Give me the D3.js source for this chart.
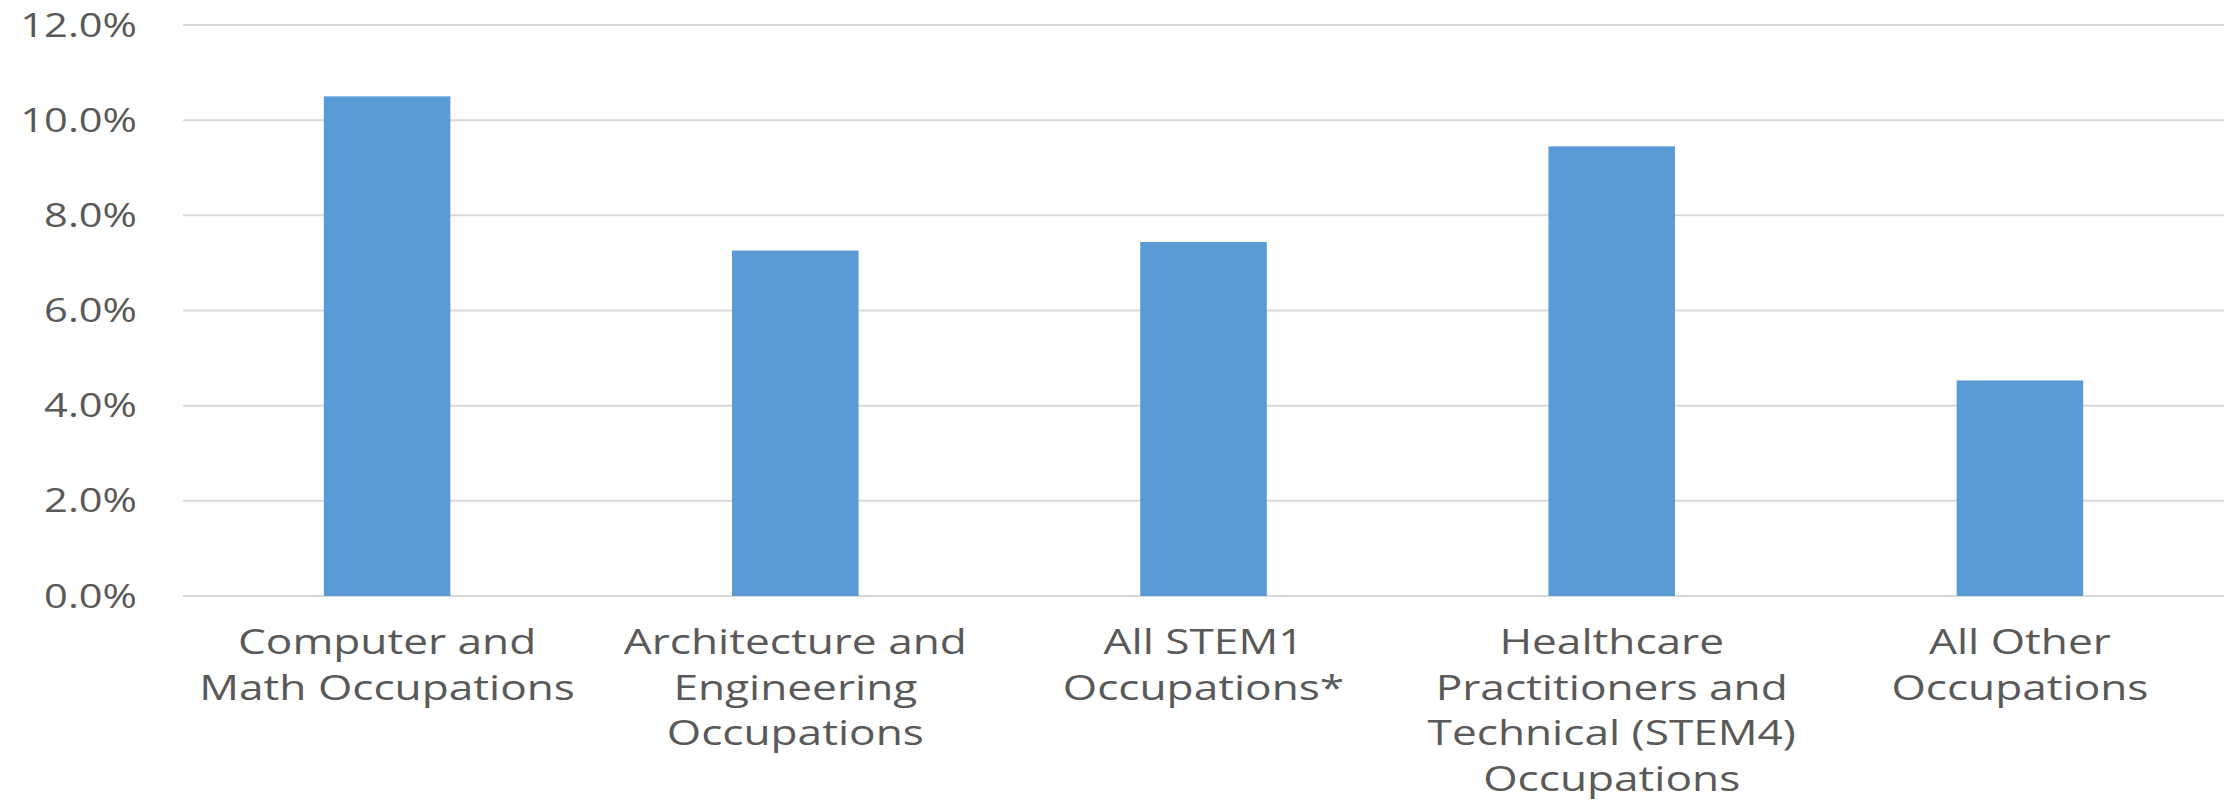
<!DOCTYPE html>
<html>
<head>
<meta charset="utf-8">
<script src="https://cdn.jsdelivr.net/npm/d3@7"></script>
<style>
  html, body { margin: 0; padding: 0; background: #ffffff; }
  svg { display: block; }
</style>
</head>
<body>
<svg id="chart" width="2239" height="800"></svg>
<script>
// ---- data ----
const categories = [
  "Computer and Math Occupations",
  "Architecture and Engineering Occupations",
  "All STEM1 Occupations*",
  "Healthcare Practitioners and Technical (STEM4) Occupations",
  "All Other Occupations"
];
const categoryLines = [
  ["Computer and", "Math Occupations"],
  ["Architecture and", "Engineering", "Occupations"],
  ["All STEM1", "Occupations*"],
  ["Healthcare", "Practitioners and", "Technical (STEM4)", "Occupations"],
  ["All Other", "Occupations"]
];
const values = [0.1050, 0.0726, 0.0744, 0.0945, 0.0453];
const yTicks = [0, 0.02, 0.04, 0.06, 0.08, 0.10, 0.12];

// ---- layout ----
const W = 2239, H = 800;
const margin = { left: 183, right: 15, top: 25, bottom: 204 };
const sx = 1.3;          // horizontal stretch of the text, as in the reference
const textColor = "#595959";
const gridColor = "#D9D9D9";
const barColor = "#5B9BD5";

const svg = d3.select("#chart");

const x = d3.scaleBand()
  .domain(categories)
  .range([margin.left, W - margin.right])
  .paddingInner(0.69)
  .paddingOuter(0.345);

const y = d3.scaleLinear()
  .domain([0, 0.12])
  .range([H - margin.bottom, margin.top]);

// gridlines
svg.append("g")
  .selectAll("line")
  .data(yTicks)
  .join("line")
  .attr("x1", margin.left)
  .attr("x2", W - margin.right)
  .attr("y1", d => y(d))
  .attr("y2", d => y(d))
  .attr("stroke", gridColor)
  .attr("stroke-width", 2);

// y axis labels
const fmt = d3.format(".1%");
svg.append("g")
  .selectAll("text")
  .data(yTicks)
  .join("text")
  .attr("transform", d => `translate(137,${y(d) + 11.5}) scale(${sx},1)`)
  .attr("text-anchor", "end")
  .attr("font-family", "'Open Sans', sans-serif")
  .attr("font-size", 32)
  .attr("fill", textColor)
  .text(d => fmt(d));

// bars
svg.append("g")
  .selectAll("rect")
  .data(values)
  .join("rect")
  .attr("x", (d, i) => x(categories[i]))
  .attr("width", x.bandwidth())
  .attr("y", d => y(d))
  .attr("height", d => y(0) - y(d))
  .attr("fill", barColor);

// category labels
const lineH = 45.5;
const firstBaseline = y(0) + 58;
const lab = svg.append("g");
categories.forEach((c, i) => {
  const cx = x(c) + x.bandwidth() / 2;
  categoryLines[i].forEach((ln, j) => {
    lab.append("text")
      .attr("transform", `translate(${cx},${firstBaseline + j * lineH}) scale(${sx},1)`)
      .attr("text-anchor", "middle")
      .attr("font-family", "'Open Sans', sans-serif")
      .attr("font-size", 34)
      .attr("fill", textColor)
      .text(ln);
  });
});
</script>
</body>
</html>
